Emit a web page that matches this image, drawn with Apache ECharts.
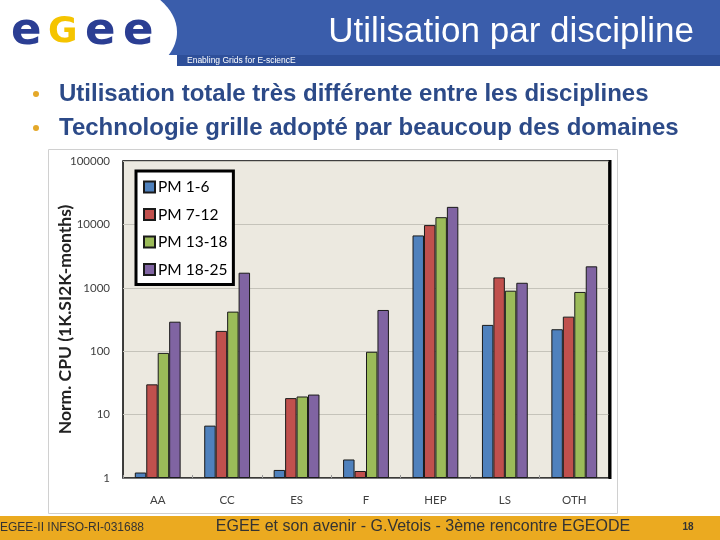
<!DOCTYPE html>
<html>
<head>
<meta charset="utf-8">
<script src="https://cdn.jsdelivr.net/npm/echarts@6/dist/echarts.min.js"></script>
<style>
html,body{margin:0;padding:0;background:#fff;}
#c{width:720px;height:540px;}
</style>
</head>
<body>
<div id="c"></div>
<script>
// ---- data ----
var categories = ['AA', 'CC', 'ES', 'F', 'HEP', 'LS', 'OTH'];
var seriesNames = ['PM 1-6', 'PM 7-12', 'PM 13-18', 'PM 18-25'];
var pm1_6   = [1.22, 6.7, 1.34, 1.96, 6700, 260, 222];
var pm7_12  = [30, 209, 18.2, 1.29, 9750, 1460, 351];
var pm13_18 = [94, 421, 19.3, 98, 13000, 900, 860];
var pm18_25 = [292, 1730, 20.7, 447, 18900, 1200, 2180];
var yAxisName = 'Norm. CPU (1K.SI2K-months)';
var slideTitle = 'Utilisation par discipline';
var bullets = ['Utilisation totale très différente entre les disciplines',
               'Technologie grille adopté par beaucoup des domaines'];
var footerLeft = 'EGEE-II INFSO-RI-031688';
var footerMid = 'EGEE et son avenir - G.Vetois - 3ème rencontre EGEODE';
var pageNum = '18';

var colors = ['#4F81BD', '#C0504D', '#9BBB59', '#8064A2'];
var allSeries = [pm1_6, pm7_12, pm13_18, pm18_25];

var chart = echarts.init(document.getElementById('c'), null, {renderer: 'canvas'});

var graphics = [
  // chart frame
  {type: 'rect', shape: {x: 48.5, y: 149.5, width: 569, height: 364}, style: {fill: '#fff', stroke: '#d0d0d0', lineWidth: 1}, z: -10},
  // header banner
  {type: 'rect', shape: {x: 140, y: 0, width: 580, height: 55}, style: {fill: '#3A5DAB'}, z: 1},
  {type: 'rect', shape: {x: 177, y: 55, width: 543, height: 11}, style: {fill: '#2E4F99'}, z: 1},
  {type: 'ellipse', shape: {cx: 76, cy: 32, rx: 101, ry: 58}, style: {fill: '#fff'}, z: 2},
  {type: 'rect', shape: {x: 0, y: 66, width: 720, height: 10}, style: {fill: '#fff'}, z: 2},
  {type: 'text', x: 694, y: 32, style: {text: slideTitle, fill: '#fff', font: '35px "Liberation Sans", Arial', textAlign: 'right', textVerticalAlign: 'middle'}, z: 3},
  {type: 'text', x: 187, y: 61, style: {text: 'Enabling Grids for E-sciencE', fill: '#fff', font: '8.5px "Liberation Sans", Arial', textVerticalAlign: 'middle'}, z: 3},
  // logo letters
  {type: 'text', x: 11, y: 32, style: {text: 'e', fill: '#2B3E93', font: 'bold 45px "DejaVu Sans"', textVerticalAlign: 'middle'}, z: 3},
  {type: 'text', x: 48, y: 33, style: {text: 'G', fill: '#F5C400', font: 'bold 36px "DejaVu Sans"', textVerticalAlign: 'middle'}, z: 3},
  {type: 'text', x: 85, y: 32, style: {text: 'e', fill: '#2B3E93', font: 'bold 45px "DejaVu Sans"', textVerticalAlign: 'middle'}, z: 3},
  {type: 'text', x: 123, y: 32, style: {text: 'e', fill: '#2B3E93', font: 'bold 45px "DejaVu Sans"', textVerticalAlign: 'middle'}, z: 3},
  // bullets
  {type: 'circle', shape: {cx: 36, cy: 94, r: 3}, style: {fill: '#E4A829'}, z: 3},
  {type: 'circle', shape: {cx: 36, cy: 128, r: 3}, style: {fill: '#E4A829'}, z: 3},
  {type: 'text', x: 59, y: 94, style: {text: bullets[0], fill: '#2C4A88', font: 'bold 24px "Liberation Sans", Arial', textVerticalAlign: 'middle'}, z: 3},
  {type: 'text', x: 59, y: 128, style: {text: bullets[1], fill: '#2C4A88', font: 'bold 24px "Liberation Sans", Arial', textVerticalAlign: 'middle'}, z: 3},
  // footer
  {type: 'rect', shape: {x: 0, y: 516, width: 720, height: 24}, style: {fill: '#EBAA20'}, z: 1},
  {type: 'text', x: 0, y: 528, style: {text: footerLeft, fill: '#333', font: '12px "Liberation Sans", Arial', textVerticalAlign: 'middle'}, z: 3},
  {type: 'text', x: 423, y: 527, style: {text: footerMid, fill: '#333', font: '16px "Liberation Sans", Arial', textAlign: 'center', textVerticalAlign: 'middle'}, z: 3},
  {type: 'text', x: 688, y: 527, style: {text: pageNum, fill: '#333', font: 'bold 10px "Liberation Sans", Arial', textAlign: 'center', textVerticalAlign: 'middle'}, z: 3},
  // thick right border of plot
  {type: 'line', shape: {x1: 610, y1: 160, x2: 610, y2: 479}, style: {stroke: '#000', lineWidth: 3}, z: 5}
];

var series = seriesNames.map(function (n, i) {
  return {
    name: n,
    type: 'bar',
    data: allSeries[i],
    barGap: '0%',
    barCategoryGap: '34%',
    itemStyle: {color: colors[i], borderColor: '#1a1a1a', borderWidth: 1},
    z: 2
  };
});

chart.setOption({
  animation: false,
  backgroundColor: '#fff',
  textStyle: {fontFamily: 'Lato'},
  graphic: graphics,
  grid: {left: 123, top: 161, width: 486, height: 317, show: true, backgroundColor: '#ECE9E0', borderColor: '#000', borderWidth: 1.5, containLabel: false},
  legend: {
    orient: 'vertical', left: 136, top: 171,
    data: seriesNames,
    itemWidth: 11, itemHeight: 11, itemGap: 11.5,
    backgroundColor: '#fff', borderColor: '#000', borderWidth: 3,
    padding: [8, 6, 7, 7],
    textStyle: {fontFamily: 'Lato', fontSize: 15.5, color: '#000', padding: [0, 0, 0, -2]},
    icon: 'rect'
  },
  xAxis: {
    type: 'category', data: categories,
    axisLine: {lineStyle: {color: '#777', width: 1}},
    axisTick: {show: true, length: 3, inside: true, lineStyle: {color: '#999'}},
    axisLabel: {color: '#404040', fontSize: 11.5, margin: 16, fontFamily: 'Lato'}
  },
  yAxis: {
    type: 'log', logBase: 10, min: 1, max: 100000,
    name: yAxisName, nameLocation: 'middle', nameRotate: 90, nameGap: 49,
    nameMoveOverlap: false,
    nameTextStyle: {fontFamily: 'Lato', fontWeight: 'bold', fontSize: 17.5, color: '#222'},
    axisLine: {show: false},
    axisTick: {show: false},
    axisLabel: {color: '#404040', fontSize: 11.5, margin: 13, fontFamily: 'Lato',
      formatter: function (v) { return String(Math.round(v)); }},
    splitLine: {lineStyle: {color: '#C5C3BA', width: 1}}
  },
  series: series
});
</script>
</body>
</html>
